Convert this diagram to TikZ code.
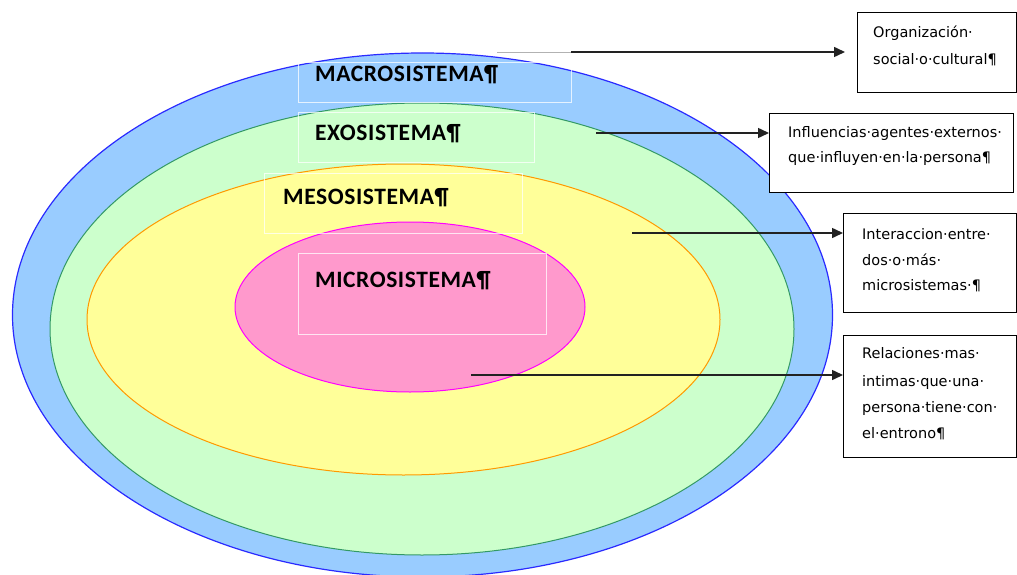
\documentclass[tikz,border=0pt]{standalone}
\usepackage{fontspec}
\setmainfont{DejaVu Sans}
\newfontfamily\labfont[LetterSpace=2.5]{Carlito}
\newfontfamily\boxfont{DejaVu Sans}
\usetikzlibrary{shapes.geometric,arrows.meta}
\definecolor{macrofill}{HTML}{99CCFF}
\definecolor{macroline}{HTML}{2A2AFF}
\definecolor{exofill}{HTML}{CCFFCC}
\definecolor{exoline}{HTML}{339966}
\definecolor{mesofill}{HTML}{FFFF99}
\definecolor{mesoline}{HTML}{FF9900}
\definecolor{microfill}{HTML}{FF99CC}
\definecolor{microline}{HTML}{FF00FF}
\definecolor{arrowcol}{HTML}{222222}
\tikzset{
  ring/.style={ellipse, inner sep=0pt, line width=1.2pt},
  lblframe/.style={draw=white, draw opacity=0.75, line width=0.8pt, inner sep=0pt, anchor=north west},
  lbl/.style={font=\labfont\bfseries\fontsize{23.5}{28}\selectfont, inner sep=0pt, anchor=base west},
  rbox/.style={draw=black, line width=1.2pt, fill=white, inner sep=0pt, anchor=north west},
  rtxt/.style={font=\boxfont\fontsize{14.5}{26}\selectfont, inner sep=0pt, anchor=base west},
  conn/.style={draw=arrowcol, line width=1.5pt, -{Triangle[length=11pt,width=10pt]}},
}
\begin{document}
\begin{tikzpicture}[x=1pt,y=-1pt]
\useasboundingbox (0,0) rectangle (1017,575);
\clip (0,0) rectangle (1017,575);
% ellipses
\node[ring, draw=macroline, fill=macrofill, minimum width=820pt, minimum height=524pt] (macro) at (422.5,315) {};
\node[ring, draw=exoline, fill=exofill, minimum width=744pt, minimum height=452pt, line width=1pt] (exo) at (422,329) {};
\node[ring, draw=mesoline, fill=mesofill, minimum width=633pt, minimum height=311pt, line width=1pt] (meso) at (403.5,319.5) {};
\node[ring, draw=microline, fill=microfill, minimum width=350pt, minimum height=170pt, line width=1pt] (micro) at (410,307) {};
% label frames
\node[lblframe, minimum width=273pt, minimum height=40pt] (fmacro) at (298,62) {};
\node[lblframe, minimum width=236pt, minimum height=50pt] (fexo) at (298,112) {};
\node[lblframe, minimum width=258pt, minimum height=60pt] (fmeso) at (264,173) {};
\node[lblframe, minimum width=248pt, minimum height=81pt] (fmicro) at (298,253) {};
% labels
\node[lbl] (tmacro) at (315,82) {MACROSISTEMA¶};
\node[lbl] (texo) at (315,140) {EXOSISTEMA¶};
\node[lbl] (tmeso) at (283,204) {MESOSISTEMA¶};
\node[lbl] (tmicro) at (315,287) {MICROSISTEMA¶};
% right boxes
\node[rbox, minimum width=159pt, minimum height=80pt] (b1) at (857,12) {};
\node[rbox, minimum width=244pt, minimum height=79pt] (b2) at (769,113) {};
\node[rbox, minimum width=173pt, minimum height=99pt] (b3) at (843,213) {};
\node[rbox, minimum width=173pt, minimum height=122pt] (b4) at (843,335) {};
% box texts
\node[rtxt] (b1a) at (873,38) {Organización·};
\node[rtxt] (b1b) at (873,65) {social·o·cultural¶};
\node[rtxt] (b2a) at (788,138) {Influencias·agentes·externos·};
\node[rtxt] (b2b) at (788,162) {que·influyen·en·la·persona¶};
\node[rtxt] (b3a) at (862,239) {Interaccion·entre·};
\node[rtxt] (b3b) at (862,265) {dos·o·más·};
\node[rtxt] (b3c) at (862,290) {microsistemas·¶};
\node[rtxt] (b4a) at (862,358) {Relaciones·mas·};
\node[rtxt] (b4b) at (862,386) {intimas·que·una·};
\node[rtxt] (b4c) at (862,412) {persona·tiene·con·};
\node[rtxt] (b4d) at (862,438) {el·entrono¶};
% connectors
\coordinate (g1) at (497,53);
\coordinate (s1) at (571,52);
\coordinate (e1) at (845,52);
\coordinate (s2) at (596,133);
\coordinate (s3) at (632,233);
\coordinate (s4) at (471,375);
\draw[gray!60, line width=1pt] (g1) -- (g1 -| s1);
\draw[conn] (s1) -- (e1);
\draw[conn] (s2) -- (s2 -| b2.west);
\draw[conn] (s3) -- (s3 -| b3.west);
\draw[conn] (s4) -- (s4 -| b4.west);
\end{tikzpicture}
\end{document}
